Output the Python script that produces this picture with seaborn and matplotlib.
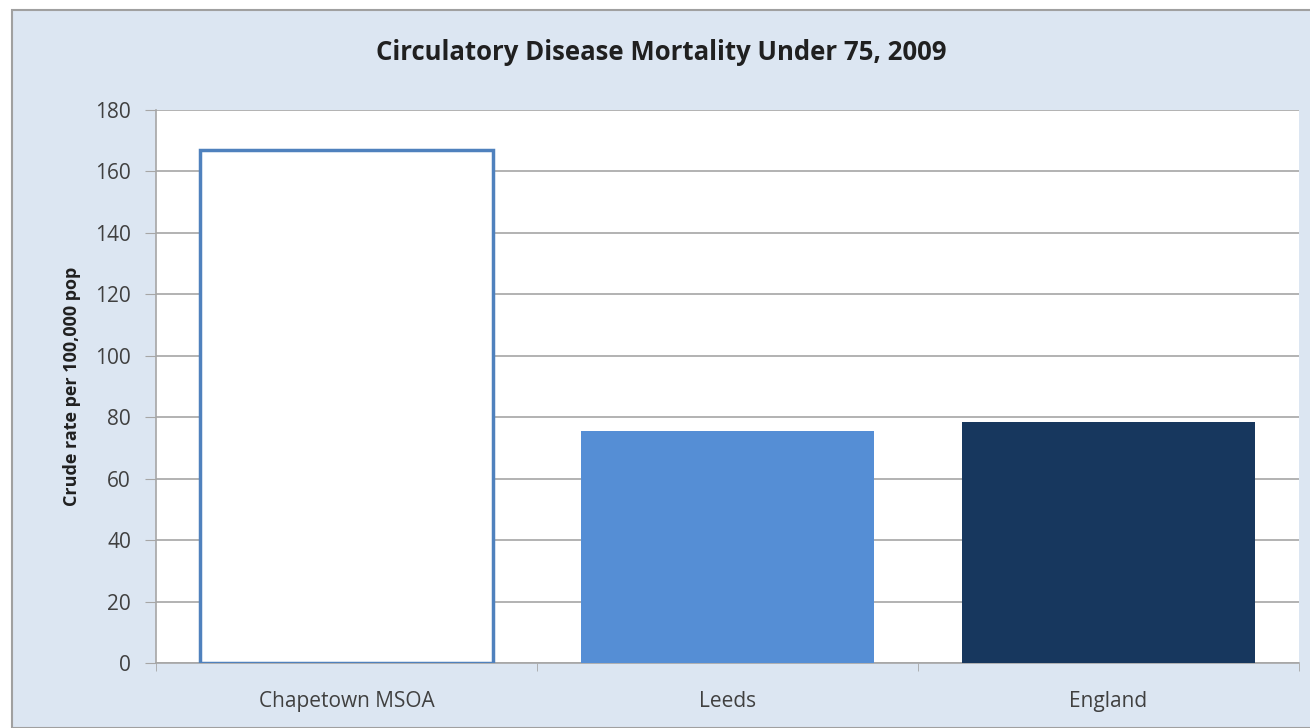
import pandas as pd
import seaborn as sns
import matplotlib.pyplot as plt
from matplotlib.patches import Rectangle

# Data
areas = ['Chapetown MSOA', 'Leeds', 'England']
rates = [167, 75.5, 78.4]
fill_colors = ['#FFFFFF', '#558ED5', '#17375E']

df = pd.DataFrame({'Area': areas, 'Rate': rates})

sns.set_style('white')
plt.rcParams['font.family'] = ['Open Sans', 'DejaVu Sans']

fig = plt.figure(figsize=(13.1, 7.28), dpi=100)
fig.patch.set_facecolor('white')

# outer chart frame (light blue)
frame = Rectangle((12 / 1310, 0), 1, 1 - 10 / 728, transform=fig.transFigure,
                  facecolor='#DCE6F2', edgecolor='#A0A0A0', linewidth=1.5, zorder=-5)
fig.patches.append(frame)

ax = fig.add_axes([156 / 1310, 65 / 728, 1143 / 1310, 553 / 728])
ax.set_zorder(1)
sns.barplot(data=df, x='Area', y='Rate', hue='Area', palette=fill_colors,
            saturation=1, width=0.77, legend=False, ax=ax, zorder=3)
# white bar gets a blue outline, the others none
ax.patches[0].set_edgecolor('#4F81BD')
ax.patches[0].set_linewidth(2.5)
ax.patches[1].set_linewidth(0)
ax.patches[2].set_linewidth(0)

ax.set_facecolor('white')
ax.set_ylim(0, 180)
ax.set_xlim(-0.5, 2.5)
ax.set_yticks(range(0, 181, 20))
ax.yaxis.grid(True, color='#A6A6A6', linewidth=1.2, zorder=0)
ax.set_axisbelow(True)

for s in ['top', 'right']:
    ax.spines[s].set_visible(False)
for s in ['left', 'bottom']:
    ax.spines[s].set_color('#A6A6A6')
    ax.spines[s].set_linewidth(1.2)

ax.set_xticks([0, 1, 2])
ax.set_xticklabels(areas)
ax.set_xticks([-0.5, 0.5, 1.5, 2.5], minor=True)
ax.tick_params(axis='x', which='major', length=0, labelsize=15, labelcolor='#404040', pad=20)
ax.tick_params(axis='x', which='minor', length=6, color='#A6A6A6', direction='out')
ax.tick_params(axis='y', length=8, color='#A6A6A6', labelsize=15, labelcolor='#404040', pad=10)
ax.tick_params(left=True, bottom=True, which='both')

ax.set_xlabel('')
ax.set_ylabel('Crude rate per 100,000 pop', fontsize=13, fontweight='bold', color='#202020', labelpad=10)

fig.text(0.5 + 12 / 2620, 1 - 52 / 728, 'Circulatory Disease Mortality Under 75, 2009',
         ha='center', va='center', fontsize=18.5, fontweight='bold', color='#202020')

fig.savefig('out.png', dpi=100)
